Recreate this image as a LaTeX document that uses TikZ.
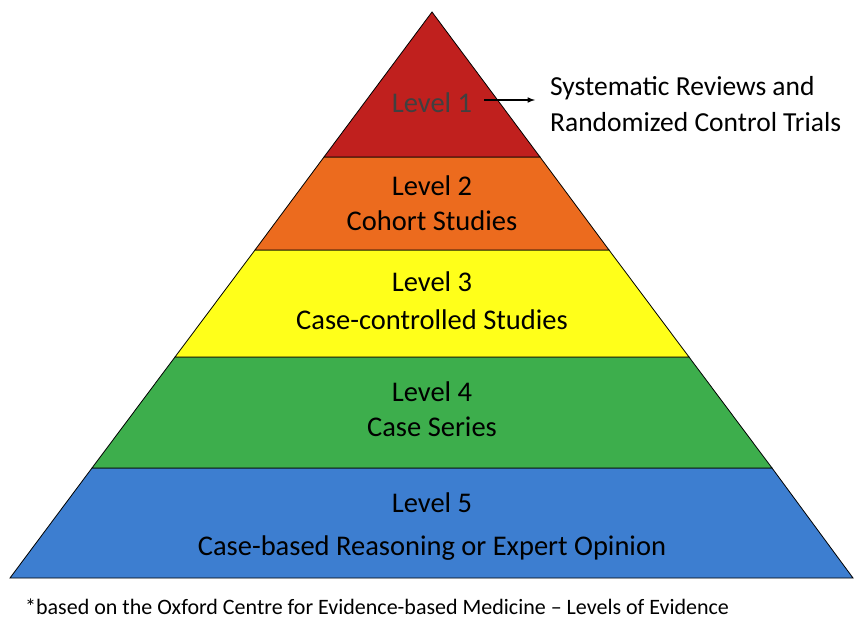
\documentclass[tikz,border=0pt]{standalone}
\usepackage{fontspec}
\setmainfont{Carlito}
\begin{document}
\begin{tikzpicture}[x=1pt,y=-1pt,
  band/.style={draw=black,line width=0.8pt},
  lbl/.style={font=\fontsize{28.5}{35}\selectfont,align=center,text=black,inner sep=0pt}]
\useasboundingbox (0,0) rectangle (865,631);
\fill[white] (0,0) rectangle (865,631);
\definecolor{cA}{HTML}{C0201E}
\definecolor{cB}{HTML}{EC6B1E}
\definecolor{cC}{HTML}{FFFF1A}
\definecolor{cD}{HTML}{3DAE4C}
\definecolor{cE}{HTML}{3D7ED0}
\filldraw[band,fill=cE] (92,468) -- (772,468) -- (853,578) -- (10,578) -- cycle;
\filldraw[band,fill=cD] (175,357) -- (689,357) -- (772,468) -- (92,468) -- cycle;
\filldraw[band,fill=cC] (255,250) -- (609,250) -- (689,357) -- (175,357) -- cycle;
\filldraw[band,fill=cB] (324,157) -- (540,157) -- (609,250) -- (255,250) -- cycle;
\filldraw[band,fill=cA] (432,12) -- (540,157) -- (324,157) -- cycle;
\node[lbl,text=black!75] (l1) at (432,103) {Level 1};
\node[lbl] (l2) at (432,203) {Level 2\\Cohort Studies};
\node[lbl] (l3) at (432,301) {Level 3\\[3pt]Case-controlled Studies};
\node[lbl] (l4) at (432,409) {Level 4\\Case Series};
\node[lbl] (l5) at (432,527) {Level 5\\[8pt]Case-based Reasoning or Expert Opinion};
\node[lbl,anchor=west,align=left,font=\fontsize{27.5}{36}\selectfont] (ann) at (550,104) {Systematic Reviews and\\Randomized Control Trials};
\coordinate (as) at (484,100);
\draw[-latex,line width=1.5pt] (as) -- (535,100);
\node[anchor=west,inner sep=0pt,font=\fontsize{22}{26}\selectfont] (fn) at (25,607) {*based on the Oxford Centre for Evidence-based Medicine -- Levels of Evidence};
\end{tikzpicture}
\end{document}
